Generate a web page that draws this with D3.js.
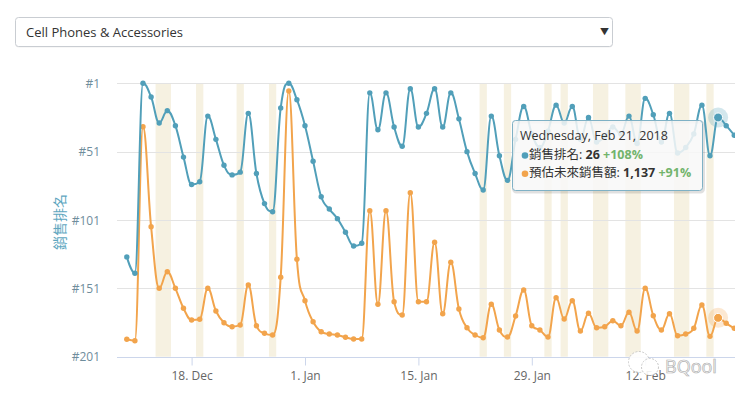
<!DOCTYPE html>
<html lang="zh-Hant">
<head>
  <meta charset="UTF-8" />
  <title>Sales Rank</title>
  <style>
    body { margin: 0; background: #fff; font-family: "Open Sans", "Noto Sans CJK TC", sans-serif; }
    svg text { font-family: "Open Sans", "Noto Sans CJK TC", sans-serif; }
  </style>
</head>
<body>
  <svg id="chart" width="735" height="397"></svg>

  <script src="https://cdnjs.cloudflare.com/ajax/libs/d3/7.8.4/d3.min.js"></script>
  <script>
    // daily data, 2017-12-10 .. 2018-02-23
    const startDay = "2017-12-10";
    const endDay = "2018-02-23";

    // 銷售排名 (sales rank, lower is better)
    const salesRank = [
      128, 140, 1, 11, 30, 21, 32, 55, 75, 73, 25, 42, 61, 68, 66, 23, 67, 89, 95, 19, 1, 13,
      32, 58, 84, 93, 100, 110, 120, 118, 8, 35, 8, 33, 47, 5, 33, 23, 5, 33, 8, 27, 51, 67, 79, 25, 54, 72, 42, 18, 38, 48, 36,
      17, 30, 18, 42, 26, 44, 40, 33, 38, 25, 45, 12, 24, 44, 23, 52, 48, 38, 17, 54, 26, 32, 39
    ];

    // 預估未來銷售額 (estimated sales)
    const estSales = [
      509, 468, 6730, 3804, 2001, 2487, 2001, 1416, 1074, 1094, 2001, 1337, 995, 878, 928, 2098, 907, 685, 635, 2323, 7775, 2850,
      1639, 1024, 732, 664, 635, 568, 518, 518, 4272, 1533, 4272, 1609, 1220, 4799, 1609, 1609, 3347, 1258, 2762, 1396, 849, 635, 556, 1533, 781, 576, 1191, 1952, 907, 781, 576,
      1726, 1103, 1639, 752, 1270, 849, 878, 1053, 907, 1299, 752, 2001, 1200, 781, 1258, 614, 664, 831, 1513, 595, 1137, 977, 831
    ];

    // shaded days
    const shadedDays = [
      "2017-12-14", "2017-12-15", "2017-12-19", "2017-12-24", "2017-12-28",
      "2018-01-23", "2018-01-26", "2018-01-31",
      "2018-02-02", "2018-02-06", "2018-02-07", "2018-02-10", "2018-02-11",
      "2018-02-16", "2018-02-17", "2018-02-20"
    ];

    const xTickDays = ["2017-12-18", "2018-01-01", "2018-01-15", "2018-01-29", "2018-02-12"];
    const xTickLabels = ["18. Dec", "1. Jan", "15. Jan", "29. Jan", "12. Feb"];
    const rankTicks = [1, 51, 101, 151, 201];
    const rankTickLabels = ["#1", "#51", "#101", "#151", "#201"];

    const hoverDay = "2018-02-21";

    const blue = "#519fb9", orange = "#f2a44c";
    const parse = d3.utcParse("%Y-%m-%d");

    const days = d3.utcDay.range(parse(startDay), d3.utcDay.offset(parse(endDay), 1));
    const data = days.map((d, i) => ({ date: d, rank: salesRank[i], sales: estSales[i] }));

    const svg = d3.select("#chart");
    const plotLeft = 117, plotRight = 735, plotTop = 83.3, plotBottom = 356.7;

    const x = d3.scaleUtc().domain([parse(startDay), parse(endDay)]).range([126.8, 734.3]);
    const yRank = d3.scaleLinear().domain([1, 201]).range([plotTop, plotBottom]);
    const ySales = d3.scaleLinear().domain([0, 8000]).range([plotBottom, plotTop]);
    const dayPx = x(parse("2017-12-11")) - x(parse("2017-12-10"));

    // spline curve in the style of the original chart (smoothing 1.5, no false extremes)
    function splineCurve(context) {
      let pts;
      return {
        areaStart() {}, areaEnd() {},
        lineStart() { pts = []; },
        point(px, py) { pts.push([+px, +py]); },
        lineEnd() {
          const n = pts.length;
          if (!n) return;
          const s = 1.5, den = s + 1;
          const ctl = pts.map((p, i) => {
            if (i === 0 || i === n - 1) return { l: p, r: p };
            const [lx, ly] = pts[i - 1], [nx, ny] = pts[i + 1], [cx, cy] = p;
            const lcx = (s * cx + lx) / den, rcx = (s * cx + nx) / den;
            let lcy = (s * cy + ly) / den, rcy = (s * cy + ny) / den;
            const corr = ((rcy - lcy) * (rcx - cx)) / (rcx - lcx) + cy - rcy;
            lcy += corr; rcy += corr;
            if (lcy > ly && lcy > cy) { lcy = Math.max(ly, cy); rcy = 2 * cy - lcy; }
            else if (lcy < ly && lcy < cy) { lcy = Math.min(ly, cy); rcy = 2 * cy - lcy; }
            if (rcy > ny && rcy > cy) { rcy = Math.max(ny, cy); lcy = 2 * cy - rcy; }
            else if (rcy < ny && rcy < cy) { rcy = Math.min(ny, cy); lcy = 2 * cy - rcy; }
            return { l: [lcx, lcy], r: [rcx, rcy] };
          });
          context.moveTo(pts[0][0], pts[0][1]);
          for (let i = 1; i < n; i++) {
            const a = ctl[i - 1].r, b = ctl[i].l;
            context.bezierCurveTo(a[0], a[1], b[0], b[1], pts[i][0], pts[i][1]);
          }
        }
      };
    }

    // --- dropdown ---
    const dd = svg.append("g");
    dd.append("rect").attr("x", 15.5).attr("y", 18.5).attr("width", 597).attr("height", 29)
      .attr("rx", 3).attr("fill", "#f0f0f0");
    dd.append("rect").attr("x", 15.5).attr("y", 17.5).attr("width", 597).attr("height", 29)
      .attr("rx", 3).attr("fill", "#fff").attr("stroke", "#c9cdd2");
    dd.append("text").attr("x", 26).attr("y", 36.5).attr("font-size", 13).attr("fill", "#333")
      .text("Cell Phones & Accessories");
    dd.append("text").attr("x", 600).attr("y", 35).attr("font-size", 9).attr("fill", "#333").text("▼");

    // --- shaded bands (merge consecutive days) ---
    const sd = shadedDays.map(parse).sort((a, b) => a - b);
    const runs = [];
    sd.forEach(d => {
      const last = runs[runs.length - 1];
      if (last && d3.utcDay.count(last[1], d) === 1) last[1] = d;
      else runs.push([d, d]);
    });
    svg.append("g").selectAll("rect").data(runs).join("rect")
      .attr("x", r => x(r[0]) - dayPx * 0.45)
      .attr("width", r => x(r[1]) - x(r[0]) + dayPx * 0.9)
      .attr("y", plotTop).attr("height", plotBottom - plotTop)
      .attr("fill", "#f6f1e1");

    // --- grid + y labels ---
    const grid = svg.append("g");
    grid.selectAll("line").data(rankTicks).join("line")
      .attr("x1", plotLeft).attr("x2", plotRight)
      .attr("y1", d => Math.round(yRank(d)) + 0.5).attr("y2", d => Math.round(yRank(d)) + 0.5)
      .attr("stroke", "#e3e3e3");
    grid.selectAll("text").data(rankTicks).join("text")
      .attr("x", 100).attr("y", d => yRank(d) + 4.5)
      .attr("text-anchor", "end").attr("font-size", 12).attr("fill", "#6f8d9c")
      .text((d, i) => rankTickLabels[i]);

    svg.append("text")
      .attr("transform", "translate(65,222) rotate(-90)")
      .attr("text-anchor", "middle").attr("font-size", 14).attr("fill", "#5fa7bf")
      .text("銷售排名");

    // --- x axis ---
    const xAxis = d3.axisBottom(x)
      .tickValues(xTickDays.map(parse))
      .tickFormat((d, i) => xTickLabels[i])
      .tickSize(8).tickSizeOuter(0);
    const gx = svg.append("g").attr("transform", `translate(0,${Math.round(plotBottom) + 0.5})`).call(xAxis);
    gx.select(".domain").attr("d", `M${plotLeft},0H${plotRight}`).attr("stroke", "#ccd6eb");
    gx.selectAll(".tick line").attr("stroke", "#ccd6eb");
    gx.selectAll(".tick text").attr("font-size", 12).attr("fill", "#666").attr("dy", "0.95em")
      .attr("font-family", "'Open Sans', sans-serif");

    // --- series ---
    const rankLine = d3.line().x(d => x(d.date)).y(d => yRank(d.rank)).curve(splineCurve);
    const salesLine = d3.line().x(d => x(d.date)).y(d => ySales(d.sales)).curve(splineCurve);

    svg.append("path").datum(data).attr("d", salesLine)
      .attr("fill", "none").attr("stroke", orange).attr("stroke-width", 2);
    svg.append("g").selectAll("circle").data(data).join("circle")
      .attr("cx", d => x(d.date)).attr("cy", d => ySales(d.sales)).attr("r", 2.7).attr("fill", orange);

    svg.append("path").datum(data).attr("d", rankLine)
      .attr("fill", "none").attr("stroke", blue).attr("stroke-width", 2);
    svg.append("g").selectAll("circle").data(data).join("circle")
      .attr("cx", d => x(d.date)).attr("cy", d => yRank(d.rank)).attr("r", 2.7).attr("fill", blue);

    // --- hover state on Feb 21 ---
    const hv = data.find(d => +d.date === +parse(hoverDay));
    const hi = data.indexOf(hv);
    const prev = data[hi - 1];
    [[yRank(hv.rank), blue], [ySales(hv.sales), orange]].forEach(([cy, c]) => {
      svg.append("circle").attr("cx", x(hv.date)).attr("cy", cy).attr("r", 10).attr("fill", c).attr("opacity", 0.25);
      svg.append("circle").attr("cx", x(hv.date)).attr("cy", cy).attr("r", 4.5).attr("fill", c)
        .attr("stroke", "#fff").attr("stroke-width", 1);
    });

    // --- tooltip ---
    const tt = svg.append("g").attr("transform", "translate(512.5,120.5)");
    tt.append("rect").attr("x", 1).attr("y", 1.5).attr("width", 190).attr("height", 70).attr("rx", 3)
      .attr("fill", "none").attr("stroke", "#000").attr("stroke-opacity", 0.12).attr("stroke-width", 3);
    tt.append("rect").attr("width", 190).attr("height", 70).attr("rx", 3)
      .attr("fill", "rgba(248,248,248,0.85)").attr("stroke", "#7fb1c5");
    tt.append("text").attr("x", 7.5).attr("y", 19.5).attr("font-size", 12.5).attr("fill", "#333")
      .text(d3.utcFormat("%A, %b %-d, %Y")(hv.date));

    const pct = (a, b) => "+" + Math.round((a / b - 1) * 100) + "%";
    const rows = [
      { c: blue, label: "銷售排名: ", val: d3.format(",")(hv.rank), chg: pct(prev.rank, hv.rank) },
      { c: orange, label: "預估未來銷售額: ", val: d3.format(",")(hv.sales), chg: pct(hv.sales, prev.sales) }
    ];
    rows.forEach((r, i) => {
      const yy = 38.5 + i * 18.3;
      tt.append("circle").attr("cx", 12.5).attr("cy", yy - 3.5).attr("r", 3.3).attr("fill", r.c);
      const t = tt.append("text").attr("x", 16.5).attr("y", yy).attr("font-size", 12.5).attr("fill", "#333");
      t.append("tspan").text(r.label);
      t.append("tspan").attr("font-weight", "bold").text(r.val);
      t.append("tspan").attr("font-weight", "bold").attr("fill", "#72b46c").text(" " + r.chg);
    });

    // --- watermark ---
    const wm = svg.append("g").attr("opacity", 0.9);
    wm.append("circle").attr("cx", 639).attr("cy", 362).attr("r", 10.5)
      .attr("fill", "#fff").attr("stroke", "#c4c4c4").attr("stroke-dasharray", "2,1.5");
    wm.append("circle").attr("cx", 650).attr("cy", 367).attr("r", 8.5)
      .attr("fill", "#fff").attr("stroke", "#c4c4c4").attr("stroke-dasharray", "2,1.5");
    wm.append("text").attr("x", 665).attr("y", 373).attr("font-size", 18)
      .attr("fill", "#fff").attr("stroke", "#a8a8a8").attr("stroke-width", 0.7)
      .text("BQool");
  </script>
</body>
</html>
